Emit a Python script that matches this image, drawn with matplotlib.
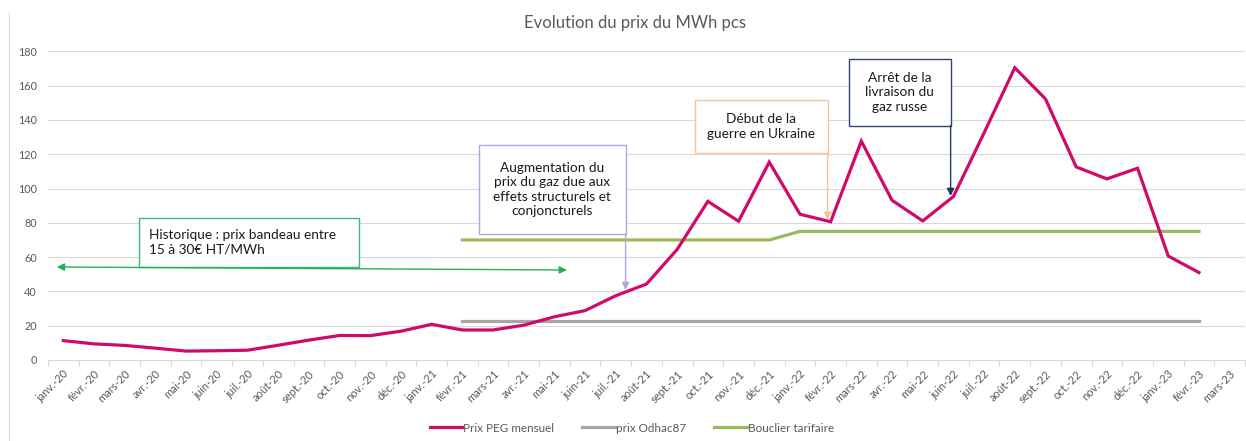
import matplotlib
matplotlib.use("Agg")
import matplotlib.pyplot as plt
from matplotlib.lines import Line2D
from matplotlib.patches import Rectangle

plt.rcParams['font.family'] = ['Lato', 'DejaVu Sans']

months = ["janv.-20", "févr.-20", "mars-20", "avr.-20", "mai-20", "juin-20", "juil.-20",
          "août-20", "sept.-20", "oct.-20", "nov.-20", "déc.-20",
          "janv.-21", "févr.-21", "mars-21", "avr.-21", "mai-21", "juin-21", "juil.-21",
          "août-21", "sept.-21", "oct.-21", "nov.-21", "déc.-21",
          "janv.-22", "févr.-22", "mars-22", "avr.-22", "mai-22", "juin-22", "juil.-22",
          "août-22", "sept.-22", "oct.-22", "nov.-22", "déc.-22",
          "janv.-23", "févr.-23", "mars-23"]

prix_peg = [11.3, 9.4, 8.5, 6.9, 5.2, 5.4, 5.7, 8.6, 11.6, 14.3, 14.2, 16.8,
            20.8, 17.5, 17.5, 20.3, 25.2, 28.8, 37.5, 44.3, 64.5, 92.5, 80.9, 115.4,
            85.0, 80.6, 127.6, 93.1, 81.1, 95.3, 132.5, 170.4, 152.2, 112.6, 105.6, 111.8,
            60.6, 51.0, None]

prix_odhac = [None] * 13 + [23.0] * 25 + [None]
bouclier = [None] * 13 + [70] * 11 + [75] * 14 + [None]

title = "Evolution du prix du MWh pcs"
series_names = ["Prix PEG mensuel", "prix Odhac87", "Bouclier tarifaire"]

W, H = 1246, 441
fig = plt.figure(figsize=(W / 100, H / 100), dpi=100)
ax = fig.add_axes([48 / W, 81 / H, 1197 / W, 308.7 / H])

x = list(range(len(months)))
c_peg, c_odh, c_bou = "#cf0a6b", "#a6a6a6", "#9bbb59"


def seg(vals):
    xs = [i for i, v in zip(x, vals) if v is not None]
    ys = [v for v in vals if v is not None]
    return xs, ys


ax.plot(*seg(prix_peg), color=c_peg, lw=2.3, solid_joinstyle='miter', zorder=5)
ax.plot(*seg(prix_odhac), color=c_odh, lw=2.3, zorder=4)
ax.plot(*seg(bouclier), color=c_bou, lw=2.3, zorder=4)

ax.set_xlim(-0.5, len(months) - 0.5)
ax.set_ylim(0, 180)
ax.set_yticks(range(0, 181, 20))
ax.grid(axis='y', color='#d9d9d9', lw=0.8)
ax.set_axisbelow(True)
for s in ['top', 'right', 'left']:
    ax.spines[s].set_visible(False)
ax.spines['bottom'].set_color('#d9d9d9')
ax.spines['bottom'].set_linewidth(0.8)

ax.set_xticks(x)
ax.set_xticklabels(months, rotation=45, ha='right', va='top', rotation_mode='anchor')
ax.set_xticks([i - 0.5 for i in range(len(months) + 1)], minor=True)
ax.tick_params(axis='x', which='major', length=0, pad=6, labelsize=8, labelcolor='#595959')
ax.tick_params(axis='x', which='minor', length=4, color='#d9d9d9', width=0.8)
ax.tick_params(axis='y', length=0, pad=8, labelsize=7.8, labelcolor='#595959')

fig.text(635 / W, 1 - 23 / H, title, ha='center', va='center', fontsize=12, color='#595959')

# left border line of chart area
fig.add_artist(Line2D([9 / W, 9 / W], [0, 1 - 13 / H], color='#d9d9d9', lw=0.8))


def px2d(px, py):
    return ((px - 63.5) / 30.69, (360 - py) / 308.7 * 180)


def box(px0, py0, px1, py1, ec, text, ha='center', textpx=None):
    x0, y0 = px2d(px0, py1)
    x1, y1 = px2d(px1, py0)
    ax.add_patch(Rectangle((x0, y0), x1 - x0, y1 - y0, facecolor='white', edgecolor=ec,
                           lw=1.0, zorder=6))
    if ha == 'center':
        tx = (x0 + x1) / 2
    else:
        tx = px2d(textpx, 0)[0]
    ax.text(tx, (y0 + y1) / 2, text, ha=ha, va='center', fontsize=9.8, color='#1a1a1a',
            zorder=7, linespacing=1.25)


def arrow(p0, p1, color, style='-|>'):
    ax.annotate('', xy=px2d(*p1), xytext=px2d(*p0),
                arrowprops=dict(arrowstyle=style, color=color, lw=1.0, mutation_scale=11,
                                shrinkA=0, shrinkB=0), zorder=7)


# Historique
arrow((57, 267), (567, 270), '#22b05a', style='<|-|>')
box(139, 218, 359, 267, '#3cb878', "Historique : prix bandeau entre\n15 à 30€ HT/MWh",
    ha='left', textpx=149)

# Augmentation
box(479, 145, 625.7, 234, '#b4a7d6',
    "Augmentation du\nprix du gaz due aux\neffets structurels et\nconjoncturels")
arrow((625.7, 234), (625.7, 290), '#b4a7d6')

# Ukraine
box(695, 100, 827.7, 153, '#f8c49c', "Début de la\nguerre en Ukraine")
arrow((827.7, 153), (827.7, 220), '#f8c49c')

# Russie
box(848.7, 59.3, 950.7, 125.7, '#2f4470', "Arrêt de la\nlivraison du\ngaz russe")
arrow((950.7, 125.7), (950.7, 196), '#1f3864')

handles = [Line2D([], [], color=c, lw=2.3) for c in (c_peg, c_odh, c_bou)]
fig.legend(handles, series_names, loc='center', bbox_to_anchor=(632 / W, 1 - 428 / H),
           ncol=3, frameon=False, fontsize=8.4, handlelength=2.8, handletextpad=0.1,
           columnspacing=2.4, labelcolor='#595959')

fig.savefig("out.png", dpi=100)
